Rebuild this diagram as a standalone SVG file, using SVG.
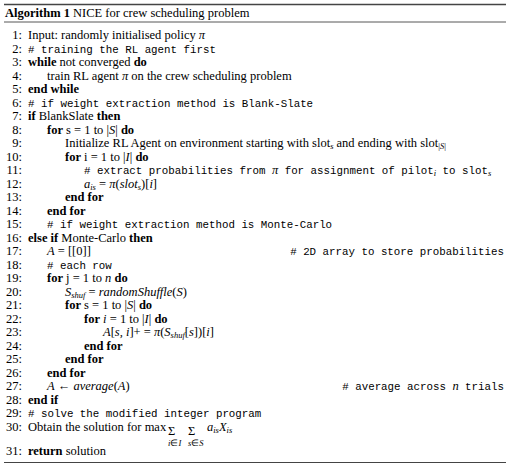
<svg xmlns="http://www.w3.org/2000/svg" width="516" height="468" viewBox="0 0 516 468">
<style>
text{font-family:"Liberation Serif","Times New Roman",serif;font-size:12.5px;fill:#000}
.n{text-anchor:end}
.b{font-weight:bold}
.m{font-style:italic}
.tt{font-family:"Liberation Mono","Courier New",monospace;font-size:10.8px}
.s{font-size:8.5px}
.rule{stroke:#444;fill:none}
</style>
<rect width="516" height="468" fill="#fff"/>
<g id="rules">
<line class="rule" x1="4" y1="4.5" x2="506" y2="4.5" stroke-width="1.4"/>
<line class="rule" x1="4" y1="22" x2="506" y2="22" stroke-width="0.9"/>
<line class="rule" x1="4" y1="462.5" x2="506" y2="462.5" stroke-width="1.2"/>
</g>
<g id="title"><text x="5" y="17" font-size="13"><tspan class="b">Algorithm 1</tspan> NICE for crew scheduling problem</text></g>
<g id="numbers">
<text class="n" x="22" y="39">1:</text>
<text class="n" x="22" y="52.5">2:</text>
<text class="n" x="22" y="66">3:</text>
<text class="n" x="22" y="79.5">4:</text>
<text class="n" x="22" y="93">5:</text>
<text class="n" x="22" y="106.5">6:</text>
<text class="n" x="22" y="120">7:</text>
<text class="n" x="22" y="133.5">8:</text>
<text class="n" x="22" y="147">9:</text>
<text class="n" x="22" y="160.5">10:</text>
<text class="n" x="22" y="174">11:</text>
<text class="n" x="22" y="187.5">12:</text>
<text class="n" x="22" y="201">13:</text>
<text class="n" x="22" y="214.5">14:</text>
<text class="n" x="22" y="228">15:</text>
<text class="n" x="22" y="241.5">16:</text>
<text class="n" x="22" y="255">17:</text>
<text class="n" x="22" y="268.5">18:</text>
<text class="n" x="22" y="282">19:</text>
<text class="n" x="22" y="295.5">20:</text>
<text class="n" x="22" y="309">21:</text>
<text class="n" x="22" y="322.5">22:</text>
<text class="n" x="22" y="336">23:</text>
<text class="n" x="22" y="349.5">24:</text>
<text class="n" x="22" y="363">25:</text>
<text class="n" x="22" y="376.5">26:</text>
<text class="n" x="22" y="390">27:</text>
<text class="n" x="22" y="403.5">28:</text>
<text class="n" x="22" y="417">29:</text>
<text class="n" x="22" y="431">30:</text>
<text class="n" x="22" y="455">31:</text>
</g>
<g id="lines">
<text x="28" y="39">Input: randomly initialised policy <tspan class="m">π</tspan></text>
<text class="tt" x="28" y="52.5"># training the RL agent first</text>
<text x="28" y="66"><tspan class="b">while</tspan> not converged <tspan class="b">do</tspan></text>
<text x="47" y="79.5">train RL agent <tspan class="m">π</tspan> on the crew scheduling problem</text>
<text class="b" x="28" y="93">end while</text>
<text class="tt" x="28" y="106.5"># if weight extraction method is Blank-Slate</text>
<text x="28" y="120"><tspan class="b">if</tspan> BlankSlate <tspan class="b">then</tspan></text>
<text x="47" y="133.5"><tspan class="b">for</tspan> s = 1 to |<tspan class="m">S</tspan>| <tspan class="b">do</tspan></text>
<text x="65" y="147">Initialize RL Agent on environment starting with slot<tspan class="s m" dy="2">s</tspan><tspan dy="-2"> and ending with slot</tspan><tspan class="s" dy="2">|<tspan class="m">S</tspan>|</tspan></text>
<text x="65" y="160.5"><tspan class="b">for</tspan> i = 1 to |<tspan class="m">I</tspan>| <tspan class="b">do</tspan></text>
<text class="tt" x="84" y="174"># extract probabilities from <tspan font-family="Liberation Serif" font-style="italic" font-size="12.5">π</tspan> for assignment of pilot<tspan class="s m" font-family="Liberation Serif" dy="2">i</tspan><tspan dy="-2"> to slot</tspan><tspan class="s m" font-family="Liberation Serif" dy="2">s</tspan></text>
<text x="84" y="187.5"><tspan class="m">a</tspan><tspan class="s m" dy="2">is</tspan><tspan dy="-2"> = </tspan><tspan class="m">π</tspan>(<tspan class="m">slot</tspan><tspan class="s m" dy="2">s</tspan><tspan dy="-2">)[</tspan><tspan class="m">i</tspan>]</text>
<text class="b" x="65" y="201">end for</text>
<text class="b" x="47" y="214.5">end for</text>
<text class="tt" x="47" y="228"># if weight extraction method is Monte-Carlo</text>
<text x="28" y="241.5"><tspan class="b">else if</tspan> Monte-Carlo <tspan class="b">then</tspan></text>
<text x="47" y="255"><tspan class="m">A</tspan> = [[0]]</text>
<text class="tt" x="504" y="255" text-anchor="end"># 2D array to store probabilities</text>
<text class="tt" x="47" y="268.5"># each row</text>
<text x="47" y="282"><tspan class="b">for</tspan> j = 1 to <tspan class="m">n</tspan> <tspan class="b">do</tspan></text>
<text x="65" y="295.5"><tspan class="m">S</tspan><tspan class="s m" dy="2">shuf</tspan><tspan dy="-2"> = </tspan><tspan class="m">randomShuffle</tspan>(<tspan class="m">S</tspan>)</text>
<text x="65" y="309"><tspan class="b">for</tspan> s = 1 to |<tspan class="m">S</tspan>| <tspan class="b">do</tspan></text>
<text x="84" y="322.5"><tspan class="b">for</tspan> <tspan class="m">i</tspan> = 1 to |<tspan class="m">I</tspan>| <tspan class="b">do</tspan></text>
<text x="103" y="336"><tspan class="m">A</tspan>[<tspan class="m">s, i</tspan>]+ = <tspan class="m">π</tspan>(<tspan class="m">S</tspan><tspan class="s m" dy="2">shuf</tspan><tspan dy="-2">[</tspan><tspan class="m">s</tspan>])[<tspan class="m">i</tspan>]</text>
<text class="b" x="84" y="349.5">end for</text>
<text class="b" x="65" y="363">end for</text>
<text class="b" x="47" y="376.5">end for</text>
<text x="47" y="390"><tspan class="m">A</tspan> ← <tspan class="m">average</tspan>(<tspan class="m">A</tspan>)</text>
<text class="tt" x="504" y="390" text-anchor="end"># average across <tspan font-family="Liberation Serif" font-style="italic" font-size="12.5">n</tspan> trials</text>
<text class="b" x="28" y="403.5">end if</text>
<text class="tt" x="28" y="417"># solve the modified integer program</text>
<text x="28" y="431">Obtain the solution for max</text>
<text x="168" y="435" font-size="19">Σ</text>
<text x="188" y="435" font-size="19">Σ</text>
<text class="s m" x="168" y="446">i<tspan font-style="normal">∈</tspan>I</text>
<text class="s m" x="188" y="446">s<tspan font-style="normal">∈</tspan>S</text>
<text x="207" y="431"><tspan class="m">a</tspan><tspan class="s m" dy="2">is</tspan><tspan class="m" dy="-2">X</tspan><tspan class="s m" dy="2">is</tspan></text>
<text x="28" y="455"><tspan class="b">return</tspan> solution</text>
</g>
</svg>
